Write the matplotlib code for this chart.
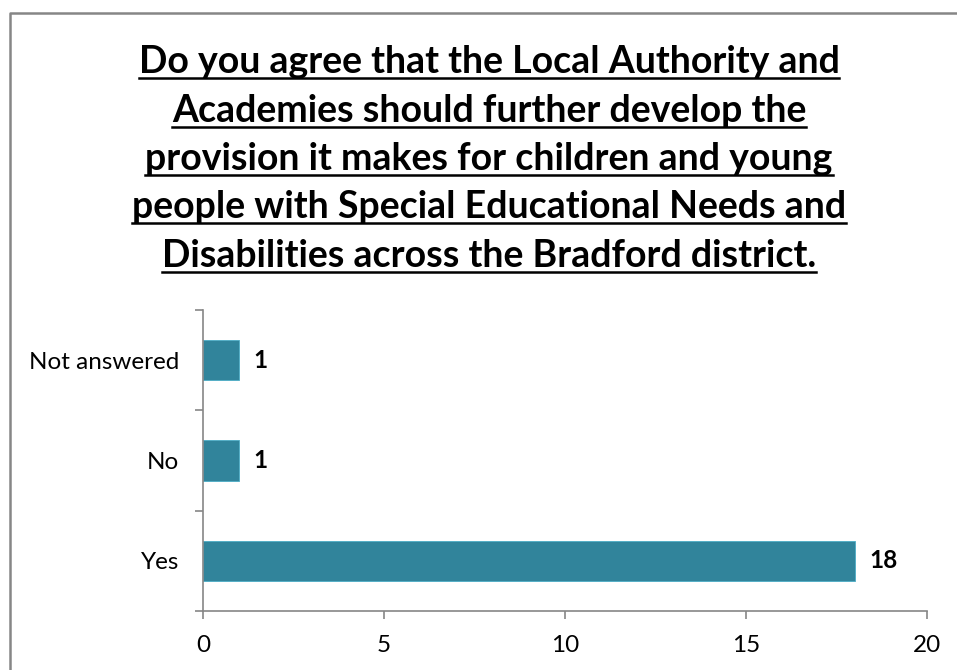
import matplotlib
matplotlib.use("Agg")
import matplotlib.pyplot as plt
from matplotlib.lines import Line2D
from matplotlib.ticker import FixedLocator

categories = ["Yes", "No", "Not answered"]
values = [18, 1, 1]
xticks = [0, 5, 10, 15, 20]
title_lines = [
    "Do you agree that the Local Authority and",
    "Academies should further develop the",
    "provision it makes for children and young",
    "people with Special Educational Needs and",
    "Disabilities across the Bradford district.",
]

FONT = "Lato"
BAR = "#31849B"
AXC = "#868686"

fig = plt.figure(figsize=(9.57, 6.70), dpi=100)
ax = fig.add_axes([203/957, 1-611/670, (927-203)/957, (611-310)/670])

ypos = list(range(len(categories)))
ax.barh(ypos, values, height=0.4, color=BAR, edgecolor="#4BACC6", linewidth=0.6)
ax.set_xlim(0, 20)
ax.set_ylim(-0.5, len(categories) - 0.5)
ax.set_xticks(xticks)
ax.set_xticklabels([str(t) for t in xticks], fontsize=17.5, family=FONT)
ax.set_yticks(ypos)
ax.set_yticklabels(categories, fontsize=17.5, family=FONT)
ax.yaxis.set_minor_locator(FixedLocator([i - 0.5 for i in range(len(categories) + 1)]))
ax.tick_params(axis="y", which="major", length=0, pad=17)
ax.tick_params(axis="y", which="minor", length=6, color=AXC, width=1.2)
ax.tick_params(axis="x", which="major", length=6, color=AXC, width=1.2, pad=11)
for s in ["top", "right"]:
    ax.spines[s].set_visible(False)
for s in ["left", "bottom"]:
    ax.spines[s].set_color(AXC)
    ax.spines[s].set_linewidth(1.2)

for y, v in zip(ypos, values):
    ax.text(v + 0.4, y, str(v), va="center", ha="left", fontsize=17.5,
            fontweight="bold", family=FONT)

texts = []
y0 = 1 - 62/670
for i, line in enumerate(title_lines):
    t = fig.text(0.5 * (133 + 845) / 957, y0 - i * 48.5/670, line, ha="center", va="center",
                 fontsize=27, fontweight="bold", family=FONT)
    texts.append(t)

fig.canvas.draw()
r = fig.canvas.get_renderer()
for t in texts:
    bb = t.get_window_extent(r)
    yl = (bb.y0 + 1) / fig.bbox.height
    fig.add_artist(Line2D([bb.x0 / fig.bbox.width, bb.x1 / fig.bbox.width], [yl, yl],
                          transform=fig.transFigure, color="black", linewidth=1.8))

# chart border
fig.add_artist(Line2D([9.5/957, 9.5/957, 1.0], [0.0, 1 - 12.5/670, 1 - 12.5/670],
                      transform=fig.transFigure, color=AXC, linewidth=1.8))

fig.savefig("out.png", dpi=100)
